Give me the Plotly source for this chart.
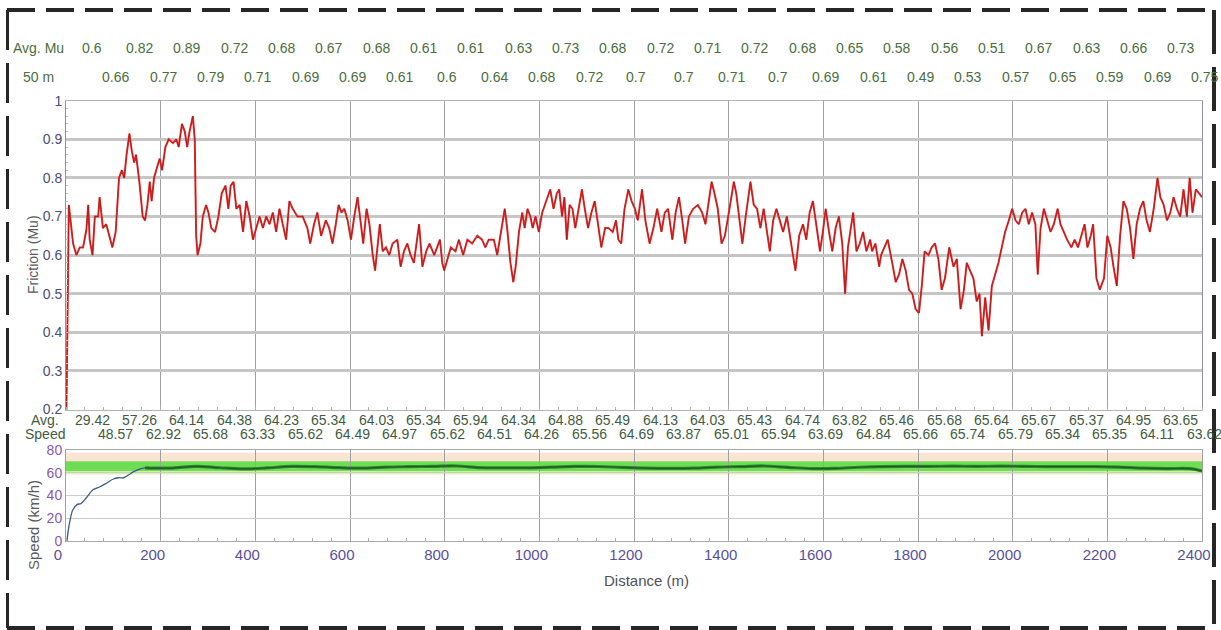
import plotly.graph_objects as go

# ---------------- data ----------------
mu_distance_m = [
    1, 4, 6, 15, 22, 29, 36, 43, 47, 50, 56, 61, 68, 71, 78, 85, 92, 98, 105, 112,
    118, 123, 128, 134, 139, 144, 148, 155, 162, 167, 172, 177, 181, 186, 193, 198,
    203, 210, 217, 226, 233, 238, 245, 251, 256, 261, 268, 272, 275, 278, 284, 289,
    296, 301, 307, 315, 322, 329, 337, 343, 348, 354, 360, 367, 374, 381, 388, 395,
    402, 409, 416, 423, 430, 437, 444, 451, 458, 465, 472, 479, 489, 500, 510, 516,
    524, 531, 539, 549, 556, 563, 570, 576, 582, 588, 595, 602, 609, 616, 623, 628,
    635, 641, 648, 653, 658, 663, 669, 676, 683, 690, 700, 707, 714, 721, 728, 735,
    746, 753, 761, 768, 778, 790, 795, 799, 806, 813, 823, 830, 839, 848, 858, 869,
    879, 886, 893, 904, 911, 920, 927, 932, 939, 945, 950, 957, 964, 969, 975, 981,
    986, 992, 999, 1006, 1014, 1023, 1030, 1037, 1042, 1048, 1053, 1058, 1064, 1070,
    1076, 1083, 1090, 1096, 1103, 1110, 1117, 1124, 1131, 1139, 1146, 1155, 1162,
    1167, 1173, 1180, 1188, 1195, 1202, 1208, 1217, 1224, 1233, 1241, 1249, 1258,
    1265, 1272, 1281, 1288, 1295, 1302, 1308, 1316, 1325, 1335, 1344, 1351, 1358,
    1364, 1370, 1377, 1385, 1392, 1399, 1406, 1411, 1416, 1422, 1429, 1436, 1446,
    1453, 1460, 1467, 1474, 1481, 1487, 1494, 1501, 1508, 1515, 1523, 1530, 1536,
    1541, 1549, 1557, 1564, 1571, 1578, 1585, 1593, 1599, 1605, 1612, 1619, 1626,
    1633, 1640, 1646, 1652, 1663, 1670, 1677, 1684, 1691, 1699, 1703, 1710, 1718,
    1722, 1729, 1736, 1744, 1753, 1760, 1767, 1774, 1781, 1788, 1795, 1802, 1808,
    1814, 1822, 1829, 1836, 1843, 1850, 1857, 1866, 1875, 1882, 1890, 1897, 1903,
    1910, 1917, 1924, 1930, 1935, 1942, 1949, 1956, 1963, 1970, 1977, 1984, 1992,
    1999, 2006, 2013, 2020, 2027, 2034, 2041, 2048, 2053, 2059, 2066, 2073, 2080,
    2087, 2095, 2101, 2108, 2115, 2124, 2131, 2138, 2145, 2152, 2158, 2165, 2170,
    2177, 2184, 2193, 2200, 2207, 2213, 2220, 2227, 2234, 2241, 2248, 2255, 2262,
    2269, 2276, 2283, 2290, 2298, 2306, 2312, 2319, 2326, 2333, 2340, 2347, 2354,
    2361, 2368, 2374, 2380, 2387, 2394, 2400,
]
mu_value = [
    0.20, 0.55, 0.73, 0.63, 0.60, 0.62, 0.62, 0.665, 0.73, 0.64, 0.60, 0.70, 0.70, 0.75,
    0.67, 0.68, 0.65, 0.62, 0.66, 0.80, 0.82, 0.80, 0.86, 0.915, 0.87, 0.84, 0.86, 0.79,
    0.70, 0.69, 0.73, 0.79, 0.74, 0.80, 0.83, 0.85, 0.82, 0.88, 0.90, 0.89, 0.90, 0.88,
    0.94, 0.92, 0.88, 0.92, 0.96, 0.90, 0.65, 0.60, 0.63, 0.70, 0.73, 0.71, 0.67, 0.66,
    0.70, 0.76, 0.78, 0.72, 0.78, 0.79, 0.72, 0.73, 0.66, 0.74, 0.70, 0.64, 0.67, 0.70,
    0.67, 0.70, 0.68, 0.71, 0.66, 0.72, 0.68, 0.64, 0.74, 0.72, 0.70, 0.70, 0.67, 0.63,
    0.68, 0.71, 0.65, 0.69, 0.67, 0.63, 0.68, 0.73, 0.71, 0.72, 0.69, 0.64, 0.70, 0.75,
    0.68, 0.63, 0.72, 0.68, 0.60, 0.56, 0.62, 0.68, 0.61, 0.62, 0.60, 0.63, 0.64, 0.57,
    0.61, 0.63, 0.60, 0.58, 0.68, 0.57, 0.61, 0.63, 0.60, 0.64, 0.58, 0.56, 0.59, 0.62,
    0.61, 0.64, 0.60, 0.64, 0.63, 0.65, 0.64, 0.62, 0.64, 0.64, 0.60, 0.67, 0.72, 0.67,
    0.58, 0.53, 0.57, 0.66, 0.71, 0.67, 0.72, 0.70, 0.67, 0.70, 0.66, 0.71, 0.74, 0.77,
    0.72, 0.76, 0.77, 0.70, 0.75, 0.64, 0.73, 0.72, 0.67, 0.72, 0.77, 0.72, 0.67, 0.71,
    0.74, 0.68, 0.62, 0.67, 0.67, 0.66, 0.69, 0.64, 0.63, 0.72, 0.77, 0.74, 0.72, 0.69,
    0.77, 0.69, 0.63, 0.67, 0.72, 0.66, 0.71, 0.72, 0.64, 0.71, 0.75, 0.69, 0.63, 0.70,
    0.72, 0.73, 0.71, 0.68, 0.74, 0.79, 0.76, 0.72, 0.63, 0.65, 0.70, 0.75, 0.79, 0.76,
    0.70, 0.63, 0.70, 0.79, 0.73, 0.72, 0.67, 0.72, 0.66, 0.61, 0.69, 0.72, 0.69, 0.66,
    0.70, 0.65, 0.60, 0.56, 0.65, 0.68, 0.64, 0.71, 0.74, 0.68, 0.61, 0.66, 0.72, 0.66,
    0.61, 0.67, 0.70, 0.63, 0.50, 0.62, 0.71, 0.61, 0.63, 0.66, 0.61, 0.64, 0.61, 0.63,
    0.57, 0.60, 0.62, 0.64, 0.59, 0.53, 0.55, 0.59, 0.56, 0.51, 0.50, 0.46, 0.45, 0.52,
    0.61, 0.60, 0.62, 0.63, 0.59, 0.51, 0.54, 0.62, 0.57, 0.59, 0.46, 0.51, 0.58, 0.56,
    0.54, 0.48, 0.50, 0.39, 0.49, 0.405, 0.52, 0.55, 0.58, 0.62, 0.66, 0.69, 0.72, 0.69,
    0.68, 0.71, 0.72, 0.68, 0.71, 0.68, 0.55, 0.67, 0.72, 0.69, 0.66, 0.68, 0.72, 0.68,
    0.66, 0.64, 0.62, 0.64, 0.62, 0.65, 0.68, 0.62, 0.65, 0.68, 0.54, 0.51, 0.54, 0.65,
    0.62, 0.57, 0.52, 0.65, 0.74, 0.72, 0.67, 0.59, 0.68, 0.72, 0.74, 0.69, 0.66, 0.72,
    0.80, 0.75, 0.73, 0.69, 0.71, 0.75, 0.72, 0.70, 0.77, 0.70, 0.80, 0.71, 0.77, 0.76,
    0.75,
]

# average Mu per 50 m segment (the two label rows interleaved)
avg_mu_50m = [
    0.6, 0.66, 0.82, 0.77, 0.89, 0.79, 0.72, 0.71, 0.68, 0.69, 0.67, 0.69, 0.68, 0.61,
    0.61, 0.6, 0.61, 0.64, 0.63, 0.68, 0.73, 0.72, 0.68, 0.7, 0.72, 0.7, 0.71, 0.71,
    0.72, 0.7, 0.68, 0.69, 0.65, 0.61, 0.58, 0.49, 0.56, 0.53, 0.51, 0.57, 0.67, 0.65,
    0.63, 0.59, 0.66, 0.69, 0.73, 0.75,
]
# average speed per 50 m segment (the two label rows interleaved)
avg_speed_50m = [
    29.42, 48.57, 57.26, 62.92, 64.14, 65.68, 64.38, 63.33, 64.23, 65.62, 65.34, 64.49,
    64.03, 64.97, 65.34, 65.62, 65.94, 64.51, 64.34, 64.26, 64.88, 65.56, 65.49, 64.69,
    64.13, 63.87, 64.03, 65.01, 65.43, 65.94, 64.74, 63.69, 63.82, 64.84, 65.46, 65.66,
    65.68, 65.74, 65.64, 65.79, 65.67, 65.34, 65.37, 65.35, 64.95, 64.11, 63.65, 63.62,
]
# acceleration phase of the speed trace
speed_ramp_m = [2, 5, 8, 14, 23, 32, 43, 57, 72, 86, 100, 111, 121, 132, 143, 157, 167]
speed_ramp_kmh = [0, 10, 17, 27, 32, 33, 38, 45, 47.7, 51, 54.5, 55.6, 55.6, 58, 61, 63.5, 64.3]
# final dip of the speed trace
cruise_end_m = 2400
cruise_end_kmh = 61.5

x_ticks = [0, 200, 400, 600, 800, 1000, 1200, 1400, 1600, 1800, 2000, 2200, 2400]
mu_ticks = [0.2, 0.3, 0.4, 0.5, 0.6, 0.7, 0.8, 0.9, 1.0]
mu_ticktext = ["0.2", "0.3", "0.4", "0.5", "0.6", "0.7", "0.8", "0.9", "1"]
speed_ticks = [0, 20, 40, 60, 80]

band_peach_kmh = [70, 77.5]
band_green_kmh = [61, 70]
band_light_kmh = [58.5, 61]

# ---------------- layout geometry ----------------
W, H = 1221, 630
XL, XR = 66, 1202
FONT = "Liberation Sans, Arial, sans-serif"
SEG = 50


def px(xp):
    return xp / W


def py(yp):
    return 1 - yp / H


def m2paper(m):
    return px(XL + (XR - XL) * m / 2400)


fig = go.Figure()

# friction trace
fig.add_trace(go.Scatter(x=mu_distance_m, y=mu_value, mode="lines",
                         line=dict(color="#e83532", width=2.0), xaxis="x", yaxis="y",
                         hoverinfo="skip", showlegend=False))
fig.add_trace(go.Scatter(x=mu_distance_m, y=mu_value, mode="lines",
                         line=dict(color="#a01616", width=0.7), xaxis="x", yaxis="y",
                         hoverinfo="skip", showlegend=False))

# speed trace
cruise_m = [SEG * k + SEG / 2 for k in range(4, len(avg_speed_50m))]
cruise_kmh = avg_speed_50m[4:]
cruise_x = [speed_ramp_m[-1]] + cruise_m + [cruise_end_m]
cruise_y = [speed_ramp_kmh[-1]] + cruise_kmh + [cruise_end_kmh]
fig.add_trace(go.Scatter(x=speed_ramp_m, y=speed_ramp_kmh, mode="lines",
                         line=dict(color="#3d5a8c", width=1.3, shape="spline"),
                         xaxis="x2", yaxis="y2", hoverinfo="skip", showlegend=False))
fig.add_trace(go.Scatter(x=cruise_x, y=cruise_y, mode="lines",
                         line=dict(color="#2f8a2f", width=3.2, shape="spline"),
                         xaxis="x2", yaxis="y2", hoverinfo="skip", showlegend=False))
fig.add_trace(go.Scatter(x=cruise_x, y=cruise_y, mode="lines",
                         line=dict(color="#1d5a22", width=1.2, shape="spline"),
                         xaxis="x2", yaxis="y2", hoverinfo="skip", showlegend=False))

shapes = []
# tolerance bands in the speed panel
for (lo, hi), col in [(band_peach_kmh, "#fbe4d2"), (band_green_kmh, "#6fdc55"),
                      (band_light_kmh, "#ddf3ad")]:
    shapes.append(dict(type="rect", xref="x2", yref="y2", x0=0, x1=2400, y0=lo, y1=hi,
                       fillcolor=col, line=dict(width=0), layer="below"))

# dashed outer border
border = dict(color="#262626", width=4)
shapes += [
    dict(type="line", xref="paper", yref="paper", x0=px(7), x1=px(1214), y0=py(10), y1=py(10),
         line=dict(border, dash="28px,11px")),
    dict(type="line", xref="paper", yref="paper", x0=px(7), x1=px(1214), y0=py(628), y1=py(628),
         line=dict(border, dash="28px,11px")),
    dict(type="line", xref="paper", yref="paper", x0=px(7.5), x1=px(7.5), y0=py(10), y1=py(628),
         line=dict(color="#262626", width=3, dash="40px,13px")),
    dict(type="line", xref="paper", yref="paper", x0=px(1214), x1=px(1214), y0=py(10), y1=py(628),
         line=dict(border, dash="44px,13px")),
]

ann = []
green_txt = "#4a6e3c"
speed_txt = "#3f5c3f"
lab_font = dict(family=FONT, size=14, color=green_txt)
spd_font = dict(family=FONT, size=14, color=speed_txt)
for k, v in enumerate(avg_mu_50m):
    yrow = 48 if k % 2 == 0 else 77
    ann.append(dict(x=m2paper(SEG * (k + 1) + 5), y=py(yrow), xref="paper", yref="paper",
                    text=f"{v:g}", showarrow=False, xanchor="center", yanchor="middle",
                    font=lab_font))
for k, v in enumerate(avg_speed_50m):
    yrow = 420 if k % 2 == 0 else 434
    ann.append(dict(x=m2paper(SEG * (k + 1) + 5), y=py(yrow), xref="paper", yref="paper",
                    text=f"{v:.2f}", showarrow=False, xanchor="center", yanchor="middle",
                    font=spd_font))

ann += [
    dict(x=px(38), y=py(48), xref="paper", yref="paper", text="Avg. Mu", showarrow=False,
         font=lab_font, xanchor="center", yanchor="middle"),
    dict(x=px(38), y=py(77), xref="paper", yref="paper", text="50 m", showarrow=False,
         font=lab_font, xanchor="center", yanchor="middle"),
    dict(x=px(45), y=py(420), xref="paper", yref="paper", text="Avg.", showarrow=False,
         font=spd_font, xanchor="center", yanchor="middle"),
    dict(x=px(45), y=py(434), xref="paper", yref="paper", text="Speed", showarrow=False,
         font=spd_font, xanchor="center", yanchor="middle"),
    dict(x=px(33), y=py(255), xref="paper", yref="paper", text="Friction (Mu)", showarrow=False,
         textangle=-90, font=dict(family=FONT, size=14, color="#5a5a5a"),
         xanchor="center", yanchor="middle"),
    dict(x=px(33), y=py(525), xref="paper", yref="paper", text="Speed (km/h)", showarrow=False,
         textangle=-90, font=dict(family=FONT, size=15, color="#5a5a5a"),
         xanchor="center", yanchor="middle"),
    dict(x=px(646), y=py(580), xref="paper", yref="paper", text="Distance (m)", showarrow=False,
         font=dict(family=FONT, size=15, color="#505060"), xanchor="center", yanchor="middle"),
]

xdom = [px(XL), px(XR)]
fig.update_layout(
    template="none",
    width=W, height=H, autosize=False, margin=dict(l=0, r=0, t=0, b=0, pad=0),
    paper_bgcolor="white", plot_bgcolor="white", showlegend=False,
    shapes=shapes, annotations=ann,
    xaxis=dict(domain=xdom, range=[0, 2400], anchor="y", tickvals=x_ticks, showticklabels=False,
               automargin=False,
               showgrid=True, gridcolor="#a0a0a0", gridwidth=1, zeroline=False,
               showline=True, linecolor="#b4b4b4", linewidth=1, mirror=True,
               ticks="", minor=dict(dtick=40, ticks="inside", ticklen=3, tickcolor="#b0b0b0",
                                    showgrid=False)),
    yaxis=dict(domain=[py(409.5), py(100.7)], range=[0.2, 1.0], anchor="x", automargin=False,
               tickvals=mu_ticks, ticktext=mu_ticktext, showgrid=True, gridcolor="#c6c6c6",
               gridwidth=2.5, zeroline=False, showline=True, linecolor="#9090a0", linewidth=1,
               mirror=True, ticks="", tickfont=dict(family=FONT, size=14, color="#4c4c7c"),
               minor=dict(dtick=0.02, ticks="inside", ticklen=2, tickcolor="#c0c0c0", showgrid=False)),
    xaxis2=dict(domain=xdom, range=[0, 2400], anchor="y2", tickvals=x_ticks, automargin=False,
                ticktext=[str(t) for t in x_ticks], showgrid=True, gridcolor="#a0a0a0",
                gridwidth=1, zeroline=False, showline=True, linecolor="#a8a8a8", linewidth=1,
                mirror=True, ticks="", ticklabelshift=-8,
                tickfont=dict(family=FONT, size=15, color="#5a4f9a"),
                minor=dict(dtick=40, ticks="inside", ticklen=3, tickcolor="#a8a8a8", showgrid=False)),
    yaxis2=dict(domain=[py(541), py(450)], range=[0, 80], anchor="x2", tickvals=speed_ticks,
                automargin=False,
                showgrid=True, gridcolor="#cccccc", gridwidth=1.2, zeroline=False,
                showline=True, linecolor="#a0a0a0", linewidth=1, mirror=True, ticks="",
                tickfont=dict(family=FONT, size=14, color="#8a57b3")),
)

fig.write_html("out.html", config={"displayModeBar": False},
               post_script="document.body.style.margin='0';document.body.style.overflow='hidden';")
